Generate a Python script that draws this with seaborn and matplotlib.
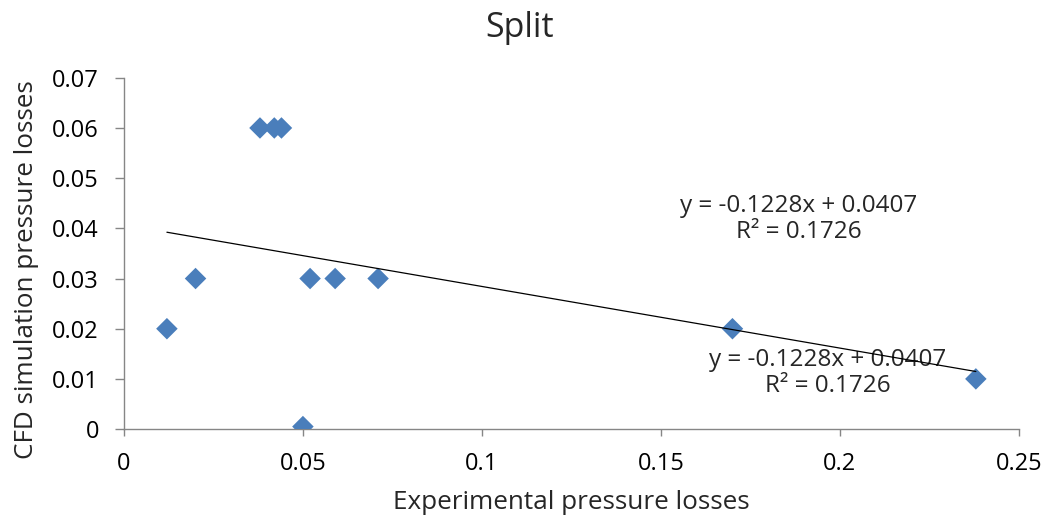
import numpy as np
import pandas as pd
import matplotlib
matplotlib.use("Agg")
import matplotlib.pyplot as plt
import seaborn as sns
from matplotlib.ticker import FormatStrFormatter, MultipleLocator

# Data
exp_losses = [0.012, 0.020, 0.038, 0.042, 0.044, 0.050, 0.052, 0.059, 0.071, 0.170, 0.238]
cfd_losses = [0.020, 0.030, 0.060, 0.060, 0.060, 0.0005, 0.030, 0.030, 0.030, 0.020, 0.010]
slope = -0.1228
intercept = 0.0407
r_squared = 0.1726
title = "Split"
xlabel = "Experimental pressure losses"
ylabel = "CFD simulation pressure losses"

sns.set_style("white")
plt.rcParams['font.family'] = ['Open Sans', 'DejaVu Sans']

fig = plt.figure(figsize=(10.46, 5.22), dpi=100)
ax = fig.add_axes([0.1185, 0.178, 0.8555, 0.673])

df = pd.DataFrame({"x": exp_losses, "y": cfd_losses})
sns.scatterplot(data=df, x="x", y="y", marker="D", s=120, color="#4A7EBB",
                edgecolor="none", linewidth=0, ax=ax, zorder=3)

xfit = np.array([min(exp_losses), max(exp_losses)])
fit_df = pd.DataFrame({"x": xfit, "y": slope * xfit + intercept})
sns.lineplot(data=fit_df, x="x", y="y", color="black", linewidth=0.9, ax=ax, zorder=4)

label = f"y = {slope:.4f}x + {intercept:.4f}\nR² = {r_squared:.4f}"
ax.text(0.1885, 0.0418, label, ha="center", va="center", fontsize=17.5, linespacing=1.12)
ax.text(0.1966, 0.0112, label, ha="center", va="center", fontsize=17.5, linespacing=1.12)

ax.set_xlim(0, 0.25)
ax.set_ylim(0, 0.07)
ax.xaxis.set_major_locator(MultipleLocator(0.05))
ax.yaxis.set_major_locator(MultipleLocator(0.01))
ax.xaxis.set_major_formatter(FormatStrFormatter('%g'))
ax.yaxis.set_major_formatter(FormatStrFormatter('%g'))

for s in ["top", "right"]:
    ax.spines[s].set_visible(False)
for s in ["left", "bottom"]:
    ax.spines[s].set_color("#868686")
    ax.spines[s].set_linewidth(1.0)

ax.tick_params(axis="x", which="major", direction="out", length=5.2, width=1,
               color="#868686", labelsize=17, labelcolor="black", pad=11.5, bottom=True)
ax.tick_params(axis="y", which="major", direction="out", length=6.5, width=1,
               color="#868686", labelsize=17, labelcolor="black", pad=11.5, left=True)

ax.set_xlabel(xlabel, fontsize=18.8, va="baseline")
ax.xaxis.set_label_coords(0.5, -0.228)
ax.set_ylabel(ylabel, fontsize=18.8, va="baseline")
ax.yaxis.set_label_coords(-0.1017, 0.453)
fig.text(0.497, 1 - 37 / 522, title, fontsize=24.5, ha="center", va="baseline")

fig.savefig("out.png", dpi=100)
